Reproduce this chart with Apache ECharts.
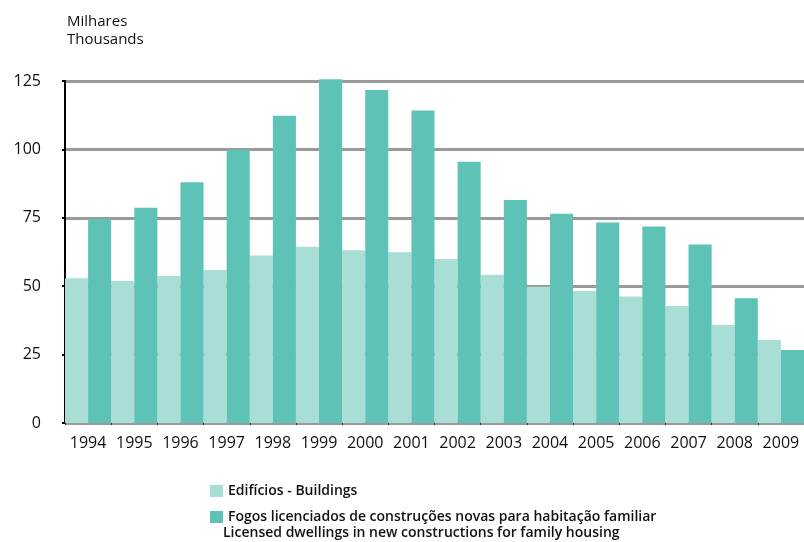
<!DOCTYPE html>
<html>
<head>
<meta charset="utf-8">
<script src="https://cdn.jsdelivr.net/npm/echarts@6/dist/echarts.min.js"></script>
<style>
  html, body { margin: 0; padding: 0; background: #fff; }
  #chart { width: 804px; height: 542px; }
</style>
</head>
<body>
<div id="chart"></div>
<script>
var years = ['1994', '1995', '1996', '1997', '1998', '1999', '2000', '2001',
             '2002', '2003', '2004', '2005', '2006', '2007', '2008', '2009'];
// milhares / thousands
var buildings = [52.9, 51.9, 53.7, 55.9, 61.2, 64.4, 63.1, 62.4,
                 59.9, 54.2, 49.8, 48.2, 46.2, 42.8, 35.8, 30.3];
var dwellings = [74.6, 78.7, 88.0, 99.8, 112.3, 125.6, 121.7, 114.2,
                 95.5, 81.5, 76.5, 73.3, 71.8, 65.2, 45.6, 26.7];
var yTicks = [0, 25, 50, 75, 100, 125];

var nameBuildings = 'Edifícios - Buildings';
var nameDwellings = 'Fogos licenciados de construções novas para habitação familiar';

var font = 'Open Sans';
var chart = echarts.init(document.getElementById('chart'));

var legendBase = {
  orient: 'vertical',
  left: 205,
  itemWidth: 13,
  itemHeight: 12,
  icon: 'rect',
  selectedMode: false,
  textStyle: { fontFamily: font, fontSize: 14, fontWeight: 600, color: '#111' }
};

chart.setOption({
  animation: false,
  backgroundColor: '#fff',
  grid: { left: 65, top: 81, height: 342, width: 743, containLabel: false },
  legend: [
    Object.assign({}, legendBase, { top: 479, data: [nameBuildings] }),
    Object.assign({}, legendBase, { top: 505, data: [nameDwellings] })
  ],
  xAxis: {
    type: 'category',
    data: years,
    axisLine: { show: false },
    axisTick: { show: true, length: 2, lineStyle: { color: '#333' } },
    axisLabel: { interval: 0, hideOverlap: false, fontFamily: font, fontSize: 16, color: '#111', margin: 12 }
  },
  yAxis: {
    type: 'value',
    min: 0,
    max: 125,
    interval: 25,
    axisLine: { show: true, lineStyle: { color: '#000', width: 2 } },
    axisTick: { show: true, length: 3, lineStyle: { color: '#000', width: 2 } },
    axisLabel: {
      fontFamily: font, fontSize: 16, color: '#111', margin: 24,
      formatter: function (v) { return yTicks.indexOf(v) >= 0 ? String(v) : ''; }
    },
    splitLine: { show: true, lineStyle: { color: '#9a9a9a', width: 3 } }
  },
  series: [
    {
      name: nameBuildings,
      type: 'bar',
      data: buildings,
      barGap: '0%',
      barCategoryGap: '0%',
      clip: false,
      itemStyle: { color: '#a9ded6' }
    },
    {
      name: nameDwellings,
      type: 'bar',
      data: dwellings,
      barGap: '0%',
      barCategoryGap: '0%',
      clip: false,
      itemStyle: { color: '#5ec3b6' }
    }
  ],
  graphic: [
    {
      type: 'text',
      left: 67,
      top: 13,
      style: {
        text: 'Milhares\nThousands',
        fontFamily: font,
        fontSize: 15,
        lineHeight: 18,
        fill: '#111'
      }
    },
    {
      type: 'text',
      left: 223,
      top: 526,
      style: {
        text: 'Licensed dwellings in new constructions for family housing',
        fontFamily: font,
        fontSize: 14,
        fontWeight: 600,
        fill: '#111'
      }
    }
  ]
});
</script>
</body>
</html>
